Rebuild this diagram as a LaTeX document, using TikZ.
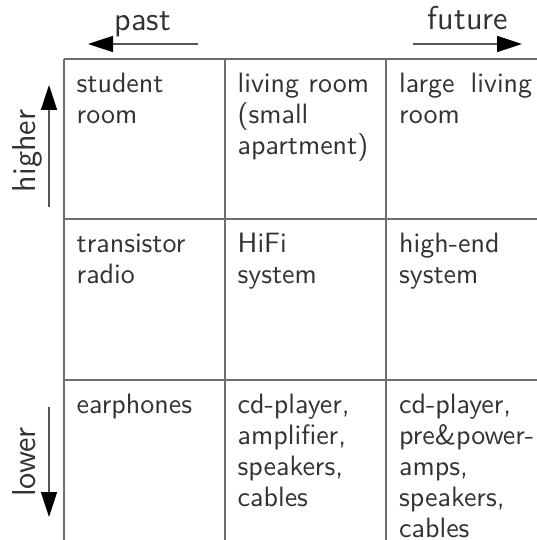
\documentclass[tikz,border=0pt]{standalone}
\usepackage{graphicx}
\usetikzlibrary{arrows.meta}
\definecolor{gridgray}{HTML}{6E6E6E}
\definecolor{inkgray}{HTML}{333333}
\definecolor{shaftgray}{HTML}{555555}
% text is set at its design size and enlarged as a whole
\newcommand{\cellstrut}{\rule{0pt}{7.32pt}}
\newcommand{\celltext}[1]{\scalebox{2.8}{\parbox[t]{47.5pt}{%
  \sffamily\fontsize{10}{11.07}\selectfont\raggedright\cellstrut #1}}}
\newcommand{\axistext}[1]{\scalebox{2.8}{\sffamily\fontsize{11.8}{13}\selectfont #1}}
\begin{document}
\begin{tikzpicture}[x=1pt,y=-1pt,
  grid line/.style={draw=gridgray,line width=1.8pt},
  axis arrow/.style={draw=shaftgray,line width=1.6pt,
    -{Triangle[length=25pt,width=16pt,color=black]}},
  axis label/.style={text=inkgray,inner sep=0pt},
  cell/.style={anchor=north west,inner sep=0pt,text=inkgray}]
\useasboundingbox (0,0) rectangle (537,540);

% table grid (open towards the right and bottom)
\draw[grid line] (64,59) -- (537,59);
\draw[grid line] (64,219) -- (537,219);
\draw[grid line] (64,380) -- (537,380);
\draw[grid line] (64,59) -- (64,540);
\draw[grid line] (225,59) -- (225,540);
\draw[grid line] (386,59) -- (386,540);

% time axis
\coordinate (pastS) at (198,44);
\coordinate (pastE) at (88,44);
\coordinate (futS) at (413,44);
\coordinate (futE) at (522,44);
\draw[axis arrow] (pastS) -- (pastE);
\draw[axis arrow] (futS) -- (futE);
\node[axis label,anchor=base] (past) at (143,31) {\axistext{past}};
\node[axis label,anchor=base] (future) at (468,30) {\axistext{future}};

% level axis
\coordinate (hiS) at (49,207);
\coordinate (hiE) at (49,85);
\coordinate (loS) at (49,407);
\coordinate (loE) at (49,517);
\draw[axis arrow] (hiS) -- (hiE);
\draw[axis arrow] (loS) -- (loE);
\node[axis label,anchor=base,rotate=90] (higher) at (35,151) {\axistext{higher}};
\node[axis label,anchor=base,rotate=90] (lower) at (35,462) {\axistext{lower}};

% cells: top row
\node[cell] (c11) at (76.5,72) {\celltext{student\\room}};
\node[cell] (c12) at (237.5,72) {\celltext{living room\\(small\\apartment)}};
\node[cell] (c13) at (399,72) {\celltext{large\hfill living\\room}};
% middle row
\node[cell] (c21) at (76.5,232) {\celltext{transistor\\radio}};
\node[cell] (c22) at (237.5,232) {\celltext{HiFi\\system}};
\node[cell] (c23) at (399,232) {\celltext{high-end\\system}};
% bottom row
\node[cell] (c31) at (76.5,393) {\celltext{earphones}};
\node[cell] (c32) at (237.5,393) {\celltext{cd-player,\\amplifier,\\speakers,\\cables}};
\node[cell] (c33) at (399,393) {\celltext{cd-player,\\\mbox{pre\&power-}\\amps,\\speakers,\\cables}};
\end{tikzpicture}
\end{document}
